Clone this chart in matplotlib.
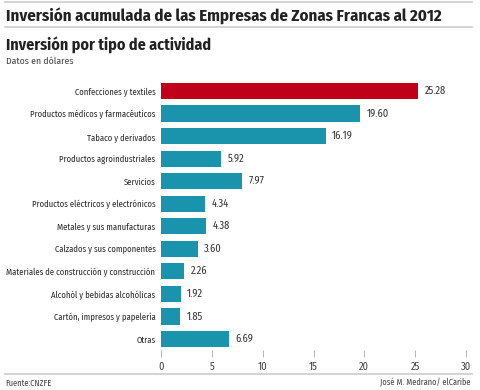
import matplotlib.pyplot as plt
from matplotlib.lines import Line2D

plt.rcParams['font.family'] = ['Fira Sans Condensed', 'DejaVu Sans']

categorias = ["Confecciones y textiles", "Productos médicos y farmacéuticos",
              "Tabaco y derivados", "Productos agroindustriales", "Servicios",
              "Productos eléctricos y electrónicos", "Metales y sus manufacturas",
              "Calzados y sus componentes",
              "Materiales de construcción y construcción",
              "Alcohól y bebidas alcohólicas", "Cartón, impresos y papelería",
              "Otras"]
valores = [25.28, 19.60, 16.19, 5.92, 7.97, 4.34, 4.38, 3.60, 2.26, 1.92, 1.85, 6.69]
ticks_x = [0, 5, 10, 15, 20, 25, 30]

rojo = "#C00018"
azul = "#1A93AD"
colores = [rojo] + [azul] * (len(valores) - 1)

W, H = 480, 390
fig = plt.figure(figsize=(W / 100, H / 100), dpi=100)

# ejes: de px 161 a 466 en x, 79.75 a 350.25 en y
ax = fig.add_axes([161 / W, 1 - 350.25 / H, 305 / W, 270.5 / H])
pos = list(range(len(valores)))
ax.barh(pos, valores, height=0.72, color=colores)
ax.set_ylim(len(valores) - 0.5, -0.5)
ax.set_xlim(0, 30)
ax.set_yticks(pos)
ax.set_yticklabels(categorias, fontsize=6.2, color="#2a2a2a")
ax.set_xticks(ticks_x)
ax.set_xticklabels([str(t) for t in ticks_x], fontsize=7.5, color="#444444")
ax.tick_params(axis='y', length=0, pad=4)
ax.tick_params(axis='x', length=5, width=0.6, color="#aaaaaa", pad=3)
for s in ax.spines.values():
    s.set_visible(False)

for i, v in enumerate(valores):
    ax.text(v + 0.65, i, f"{v:.2f}", va='center', ha='left', fontsize=7.5, color="#333333")

# lineas grises
for y in [2, 27, 374]:
    fig.add_artist(Line2D([5 / W, 472 / W], [1 - y / H, 1 - y / H], color="#cccccc", lw=1.2))

fig.text(6 / W, 1 - 16 / H, "Inversión acumulada de las Empresas de Zonas Francas al 2012",
         fontsize=12.1, fontweight='bold', va='center', color="#222222")
fig.text(6 / W, 1 - 45 / H, "Inversión por tipo de actividad",
         fontsize=11.5, fontweight='bold', va='center', color="#222222")
fig.text(6 / W, 1 - 61 / H, "Datos en dólares", fontsize=7, va='center', color="#444444")
fig.text(5 / W, 1 - 383 / H, "Fuente:CNZFE", fontsize=6, va='center', color="#444444")
fig.text(470 / W, 1 - 383 / H, "José M. Medrano/ elCaribe", fontsize=6,
         va='center', ha='right', color="#444444")

fig.savefig("out.png", dpi=100)
